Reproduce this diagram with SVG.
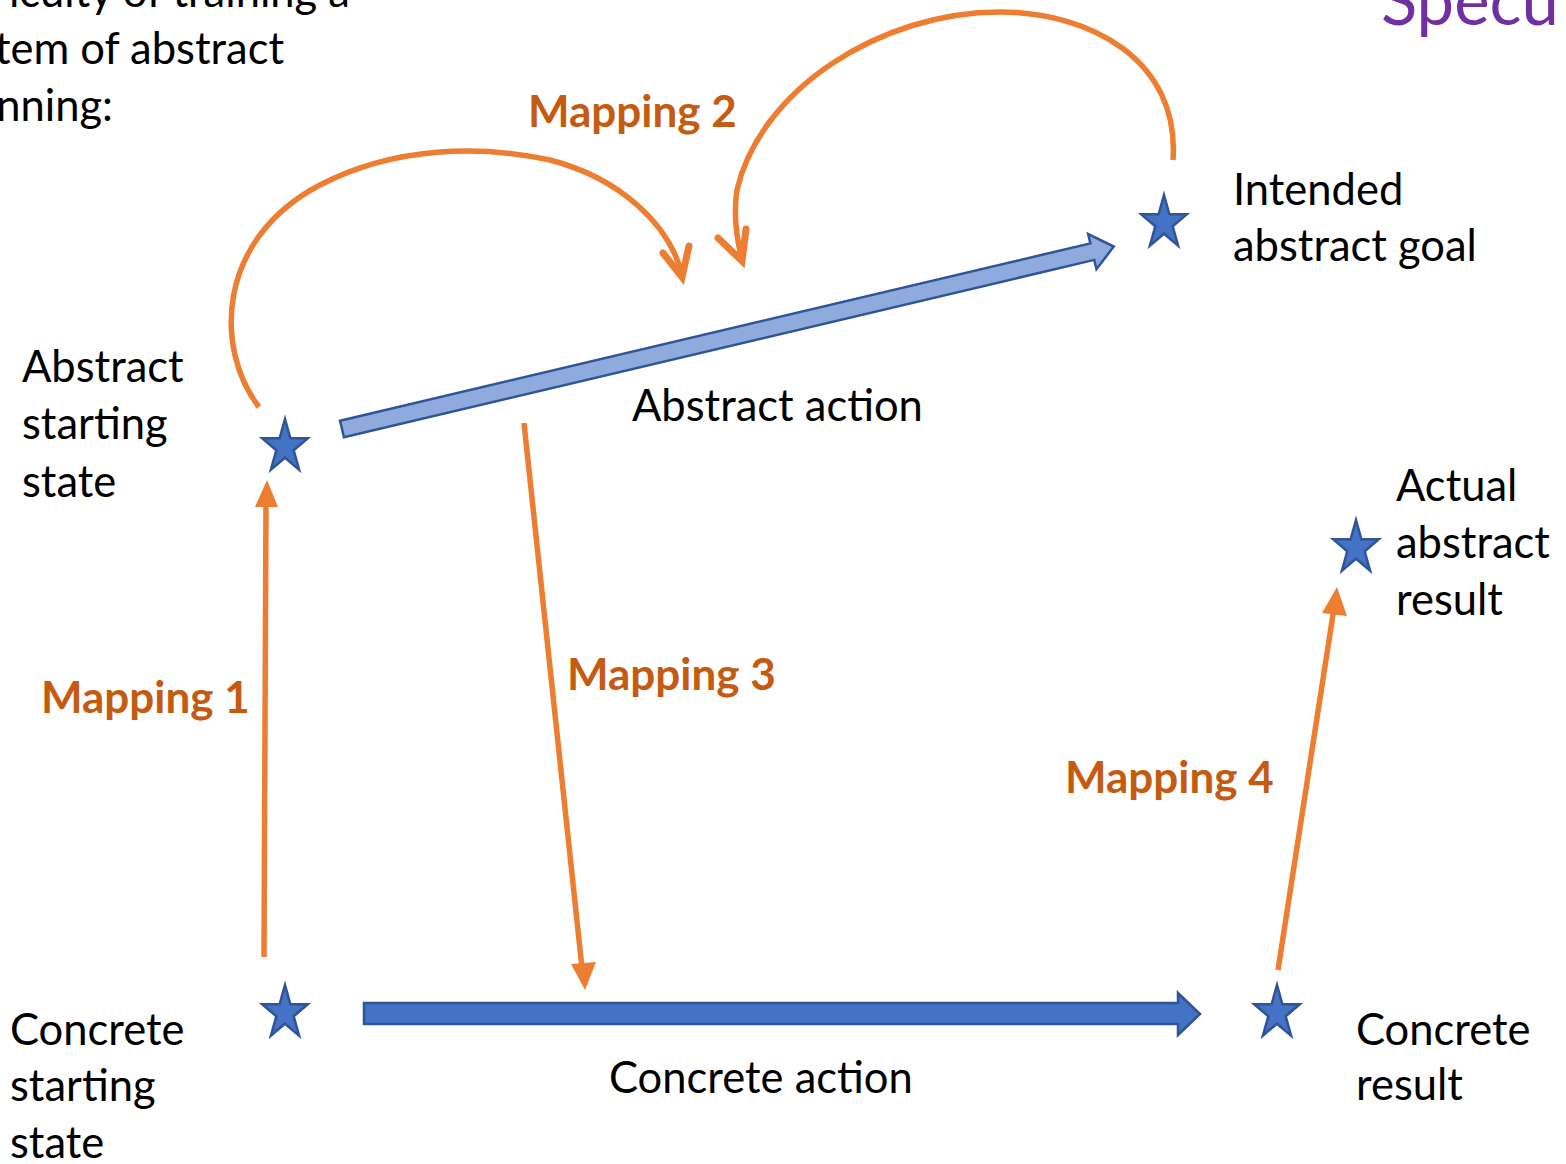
<svg xmlns="http://www.w3.org/2000/svg" width="1566" height="1164" viewBox="0 0 1566 1164">
<defs>
<style>
.t{font-family:Lato,"Liberation Sans",sans-serif;font-size:43.5px;fill:#000}
.m{font-family:Lato,"Liberation Sans",sans-serif;font-size:44px;font-weight:bold;fill:#c55a11}
.star{fill:#4472c4;stroke:#2f5597;stroke-width:2.5;stroke-linejoin:miter}
.o{fill:none;stroke:#ed7d31;stroke-width:5.5}
.oh{fill:#ed7d31;stroke:none}
.chev{fill:none;stroke:#ed7d31;stroke-width:7;stroke-linecap:round;stroke-linejoin:miter}
</style>
<polygon id="s" points="0,-28 5.4,-8.7 22.8,-8.7 8.7,3.3 14.1,22.7 0,10.7 -14.1,22.7 -8.7,3.3 -22.8,-8.7 -5.4,-8.7"/>
</defs>
<rect width="1566" height="1164" fill="#fff"/>

<g id="heading">
<text class="t" x="350" y="7" text-anchor="end">iculty of training a</text>
<text class="t" x="284" y="64" text-anchor="end">tem of abstract</text>
<text class="t" x="113" y="121" text-anchor="end">nning:</text>
<text x="1381" y="25" style="font-family:Lato,'Liberation Sans',sans-serif;font-size:67px;fill:#7030a0">Specu</text>
</g>

<g id="connectors">
<g transform="translate(342,429) rotate(-13.3)">
<polygon points="0,-8.5 771,-8.5 771,-18 793,0 771,18 771,8.5 0,8.5" fill="#8faadc" stroke="#2f5597" stroke-width="2.5"/>
</g>
<polygon points="364,1003 1178,1003 1178,993 1200,1014 1178,1035 1178,1024 364,1024" fill="#4472c4" stroke="#2f5597" stroke-width="2.5"/>
<line class="o" x1="264" y1="957" x2="266" y2="500"/>
<polygon class="oh" points="267,480 255,507 278,507"/>
<line class="o" x1="524" y1="423" x2="582" y2="968"/>
<polygon class="oh" points="585,990 571,964 596,962"/>
<line class="o" x1="1278" y1="970" x2="1334" y2="608"/>
<polygon class="oh" points="1337,587 1322,613 1347,616"/>
<path class="o" d="M259,407 C215,350 215,240 320,185 C395,146 480,145 550,160 C620,178 670,225 682,275"/>
<polyline class="chev" points="663,253 682,277 689,246"/>
<path class="o" d="M1173,160 C1180,60 1090,12 1000,12 C880,12 760,90 737,190 C733,215 737,240 742,260"/>
<polyline class="chev" points="718,238 742,261 746,229"/>
</g>

<g id="abstract-start"><use href="#s" class="star" x="285" y="447"/>
<text class="t"><tspan x="22" y="382">Abstract</tspan><tspan x="22" y="439">starting</tspan><tspan x="22" y="497">state</tspan></text></g>
<g id="intended-goal"><use href="#s" class="star" x="1164" y="223"/>
<text class="t"><tspan x="1233" y="205">Intended</tspan><tspan x="1233" y="261">abstract goal</tspan></text></g>
<g id="actual-result"><use href="#s" class="star" x="1356" y="548"/>
<text class="t"><tspan x="1396" y="501">Actual</tspan><tspan x="1396" y="558">abstract</tspan><tspan x="1396" y="615">result</tspan></text></g>
<g id="concrete-start"><use href="#s" class="star" x="285" y="1013"/>
<text class="t"><tspan x="10" y="1045">Concrete</tspan><tspan x="10" y="1101">starting</tspan><tspan x="10" y="1158">state</tspan></text></g>
<g id="concrete-result"><use href="#s" class="star" x="1277" y="1013"/>
<text class="t"><tspan x="1356" y="1045">Concrete</tspan><tspan x="1356" y="1100">result</tspan></text></g>

<g id="labels">
<text class="t" x="632" y="421">Abstract action</text>
<text class="t" x="609" y="1093">Concrete action</text>
<text class="m" x="41" y="713">Mapping 1</text>
<text class="m" x="528" y="127">Mapping 2</text>
<text class="m" x="567" y="690">Mapping 3</text>
<text class="m" x="1065" y="793">Mapping 4</text>
</g>
</svg>
